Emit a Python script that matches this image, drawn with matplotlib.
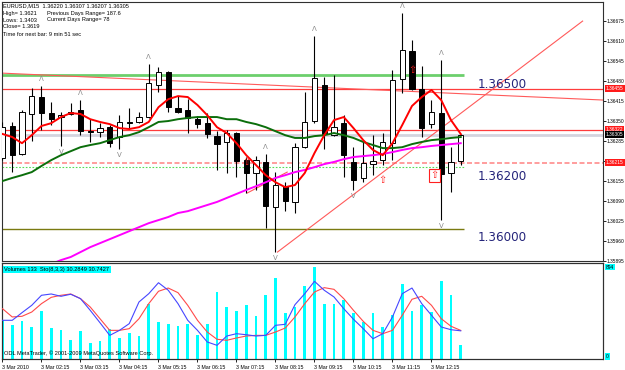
import matplotlib
matplotlib.use("Agg")
import matplotlib.pyplot as plt
import numpy as np

# ---------------- data ----------------
opens = [1.36230, 1.36334, 1.36243, 1.36373, 1.36428, 1.36376, 1.36363, 1.36373, 1.36386, 1.36317,
         1.36314, 1.36330, 1.36298, 1.36347, 1.36347, 1.36363, 1.36467, 1.36509, 1.36392, 1.36386,
         1.36356, 1.36343, 1.36301, 1.36282, 1.36311, 1.36223, 1.36181, 1.36216, 1.36070, 1.36138,
         1.36087, 1.36265, 1.36350, 1.36467, 1.36304, 1.36343, 1.36216, 1.36164, 1.36210, 1.36223,
         1.36278, 1.36486, 1.36577, 1.36454, 1.36340, 1.36376, 1.36181, 1.36220]
highs = [1.36347, 1.36347, 1.36386, 1.36457, 1.36464, 1.36412, 1.36379, 1.36408, 1.36418, 1.36356,
         1.36343, 1.36337, 1.36369, 1.36392, 1.36379, 1.36535, 1.36525, 1.36512, 1.36431, 1.36421,
         1.36366, 1.36376, 1.36317, 1.36321, 1.36314, 1.36233, 1.36236, 1.36242, 1.36184, 1.36151,
         1.36278, 1.36444, 1.36626, 1.36493, 1.36499, 1.36369, 1.36265, 1.36288, 1.36304, 1.36311,
         1.36516, 1.36701, 1.36613, 1.36528, 1.36418, 1.36548, 1.36265, 1.36307]
lows = [1.36223, 1.36184, 1.36239, 1.36285, 1.36321, 1.36337, 1.36269, 1.36369, 1.36304, 1.36282,
        1.36298, 1.36265, 1.36259, 1.36324, 1.36343, 1.36360, 1.36444, 1.36379, 1.36376, 1.36311,
        1.36327, 1.36294, 1.36191, 1.36181, 1.36168, 1.36116, 1.36126, 1.36002, 1.35924, 1.36057,
        1.36051, 1.36262, 1.36343, 1.36259, 1.36301, 1.36168, 1.36126, 1.36151, 1.36174, 1.36207,
        1.36223, 1.36441, 1.36451, 1.36298, 1.36327, 1.36028, 1.36119, 1.36207]
closes = [1.36330, 1.36239, 1.36379, 1.36431, 1.36376, 1.36356, 1.36369, 1.36379, 1.36317, 1.36314,
          1.36327, 1.36278, 1.36347, 1.36343, 1.36363, 1.36473, 1.36509, 1.36395, 1.36379, 1.36360,
          1.36340, 1.36308, 1.36275, 1.36311, 1.36220, 1.36181, 1.36223, 1.36073, 1.36142, 1.36090,
          1.36265, 1.36347, 1.36489, 1.36308, 1.36330, 1.36239, 1.36158, 1.36213, 1.36220, 1.36282,
          1.36483, 1.36581, 1.36454, 1.36327, 1.36379, 1.36178, 1.36216, 1.36305]

ma_fast = [1.36308, 1.36298, 1.36278, 1.36304, 1.36334, 1.36343, 1.36363, 1.36376, 1.36373, 1.36356,
           1.36347, 1.36340, 1.36327, 1.36324, 1.36330, 1.36347, 1.36395, 1.36421, 1.36431, 1.36428,
           1.36402, 1.36369, 1.36330, 1.36311, 1.36278, 1.36239, 1.36207, 1.36174, 1.36151, 1.36135,
           1.36142, 1.36181, 1.36246, 1.36304, 1.36353, 1.36363, 1.36327, 1.36288, 1.36256, 1.36239,
           1.36278, 1.36337, 1.36399, 1.36428, 1.36451, 1.36418, 1.36353, 1.36308]
ma_mid = [1.36155, 1.36165, 1.36174, 1.36184, 1.36204, 1.36223, 1.36239, 1.36252, 1.36265, 1.36272,
          1.36278, 1.36288, 1.36298, 1.36304, 1.36314, 1.36330, 1.36347, 1.36350, 1.36356, 1.36360,
          1.36363, 1.36363, 1.36363, 1.36356, 1.36356, 1.36347, 1.36340, 1.36330, 1.36317, 1.36304,
          1.36295, 1.36295, 1.36301, 1.36304, 1.36311, 1.36304, 1.36295, 1.36282, 1.36272, 1.36262,
          1.36262, 1.36265, 1.36275, 1.36282, 1.36288, 1.36291, 1.36295, 1.36298]
ma_slow = [None, None, None, None, None, 1.35885, 1.35898, 1.35908, 1.35924, 1.35940,
           1.35953, 1.35966, 1.35979, 1.35992, 1.36005, 1.36018, 1.36028, 1.36038, 1.36051, 1.36057,
           1.36067, 1.36077, 1.36087, 1.36100, 1.36113, 1.36126, 1.36138, 1.36151, 1.36165, 1.36174,
           1.36184, 1.36191, 1.36200, 1.36210, 1.36217, 1.36226, 1.36233, 1.36236, 1.36239, 1.36243,
           1.36249, 1.36256, 1.36262, 1.36265, 1.36269, 1.36272, 1.36275, 1.36278]

volumes = [376, 328, 369, 311, 464, 301, 282, 188, 272, 153, 175, 289, 204, 256, 224, 535,
           357, 343, 321, 337, 236, 343, 648, 505, 467, 522, 418, 622, 787, 450, 505, 710,
           894, 535, 538, 576, 447, 360, 450, 311, 425, 729, 464, 528, 457, 755, 622, 133]
sto_main = [41.6, 41.6, 49.8, 57.7, 68.5, 69.9, 67.4, 69.6, 64.9, 52.3, 39.0, 25.4, 30.8, 38.0, 61.3, 70.2,
            82.0, 73.9, 59.5, 41.6, 30.8, 18.3, 14.7, 24.7, 27.2, 26.1, 24.7, 25.4, 36.2, 37.3, 58.4, 70.2,
            83.5, 73.9, 66.7, 54.1, 42.7, 32.6, 21.8, 27.2, 45.2, 70.2, 76.3, 59.5, 47.0, 34.4, 31.5, 30.2849]
sto_signal = [54.1, 45.2, 45.9, 50.5, 59.5, 66.3, 68.5, 69.9, 64.9, 55.9, 43.3, 30.8, 30.8, 32.6, 43.3, 59.5,
              72.8, 76.3, 71.3, 57.7, 41.6, 29.0, 21.2, 20.1, 22.6, 24.7, 25.4, 25.4, 29.0, 33.3, 45.2, 59.5,
              72.0, 76.7, 74.9, 64.9, 52.3, 40.5, 30.8, 27.2, 30.8, 47.0, 64.2, 67.4, 57.7, 43.3, 35.2, 30.7427]

time_labels = ["3 Mar 2010", "3 Mar 02:15", "3 Mar 03:15", "3 Mar 04:15", "3 Mar 05:15", "3 Mar 06:15",
               "3 Mar 07:15", "3 Mar 08:15", "3 Mar 09:15", "3 Mar 10:15", "3 Mar 11:15", "3 Mar 12:15"]
price_ticks = [1.36675, 1.36610, 1.36545, 1.36480, 1.36415, 1.36350, 1.36285, 1.36220,
               1.36155, 1.36090, 1.36025, 1.35960, 1.35895]

fractal_up = [4, 8, 15, 27, 32, 41, 45]
fractal_down = [6, 12, 28, 36, 45]
arrow_bars = [25, 39, 42]
arrow_prices = [1.36216, 1.36158, 1.36516]
boxed_arrow = (44.3, 1.36174)

level_prices = [1.36500, 1.36200, 1.36000]
level_labels = ["1.36500", "1.36200", "1.36000"]
full_red_levels = [1.36455, 1.36322]
bid_price = 1.36305
pink_level = 1.36215
trend_lines = [((-0.2, 1.36506), (61.8, 1.36418)),
               ((28.2, 1.35924), (59.5, 1.36675)),
               ((25.1, 1.36116), (29.2, 1.36184))]

header_lines = ["EURUSD,M15  1.36220 1.36307 1.36207 1.36305",
                "High= 1.3621", "Lows: 1.3403", "Close= 1.3619",
                "Time for next bar: 9 min 51 sec"]
header_right = ["Previous Days Range= 187.6", "Current Days Range= 78"]

# ---------------- figure ----------------
W, H = 625.0, 370.0
FS = 4.1      # small MetaTrader-style text
FSA = 3.5     # axis labels / price tags
SMALL = 'Liberation Sans'
plt.rcParams['font.family'] = ['DejaVu Sans']
fig = plt.figure(figsize=(6.25, 3.7), dpi=100)
fig.patch.set_facecolor('white')


def rect(x0, y0, x1, y1):
    return [x0 / W, 1 - y1 / H, (x1 - x0) / W, (y1 - y0) / H]


ax = fig.add_axes(rect(2, 2, 603, 261))
axv = fig.add_axes(rect(2, 263, 603, 359))
axs = axv.twinx()

n = len(opens)
idx = np.arange(n)
o = np.array(opens); c = np.array(closes); hi = np.array(highs); lo = np.array(lows)
XL = (-0.05, -0.05 + 601 / 9.75)
for a in (ax, axv, axs):
    a.set_xlim(*XL)
ax.set_ylim(1.35895, 1.36737)

# horizontal objects
ax.hlines(bid_price, XL[0], XL[1], color='#d4d4de', lw=2.0, zorder=1)
ax.hlines(pink_level, XL[0], XL[1], color='#ff8c8c', lw=1.2, ls=(0, (3, 1.5)), zorder=1)
for lv in full_red_levels:
    ax.hlines(lv, XL[0], XL[1], color='#ff3c3c', lw=0.9, zorder=2)
end_bar = 47.3
ax.hlines(level_prices[0], XL[0], end_bar, color='#6ccf6c', lw=2.0, zorder=2)
ax.hlines(level_prices[1], XL[0], end_bar, color='#55dd55', lw=0.8, ls=(0, (1.5, 1.5)), zorder=2)
ax.hlines(level_prices[2], XL[0], end_bar, color='#7a7a10', lw=1.0, zorder=2)
for p, s in zip(level_prices, level_labels):
    ax.annotate(s, xy=(end_bar + 1.45, p), xytext=(0, -2), textcoords='offset points',
                ha='left', va='top', fontsize=8.6, color='#24247a', zorder=6)
for (x0, y0), (x1, y1) in trend_lines:
    ax.plot([x0, x1], [y0, y1], color='#ff5a5a', lw=0.8, zorder=2, clip_on=True)

# candles
ax.vlines(idx, lo, hi, color='black', lw=0.8, zorder=3)
body_lo = np.minimum(o, c)
body_h = np.maximum(np.abs(c - o), 0.00001)
ax.bar(idx, body_h, bottom=body_lo, width=0.52,
       color=['white' if cc >= oo else 'black' for oo, cc in zip(o, c)],
       edgecolor='black', linewidth=0.7, zorder=4)

# moving averages
ax.plot(idx, ma_slow, color='#ff00ff', lw=1.4, zorder=5)
ax.plot(idx, ma_mid, color='#0b6e0b', lw=1.4, zorder=5)
ax.plot(idx, ma_fast, color='#ff0000', lw=1.4, zorder=5)

# fractals
for i in fractal_up:
    ax.annotate('Λ', xy=(i, highs[i]), xytext=(0, 3), textcoords='offset points',
                ha='center', va='bottom', fontsize=5, color='#8a8a8a', zorder=6)
for i in fractal_down:
    ax.annotate('V', xy=(i, lows[i]), xytext=(0, -2), textcoords='offset points',
                ha='center', va='top', fontsize=5, color='#8a8a8a', zorder=6)
for b, p in zip(arrow_bars, arrow_prices):
    ax.text(b, p, '⇧', ha='center', va='center', fontsize=7, color='#ff2020', zorder=7)
ax.text(boxed_arrow[0], boxed_arrow[1], '⇧', ha='center', va='center', fontsize=7,
        color='#ff2020', zorder=7,
        bbox=dict(boxstyle='square,pad=0.15', fc='white', ec='#ff2020', lw=0.8))

# axes styling
for a in (ax, axv, axs):
    for sp in a.spines.values():
        sp.set_color('#303030'); sp.set_linewidth(0.8)
ax.yaxis.tick_right()
ax.set_yticks(price_ticks)
ax.set_yticklabels([f'{t:.5f}' for t in price_ticks], fontfamily=SMALL)
ax.tick_params(axis='y', length=1.8, width=0.6, pad=0.8, labelsize=FSA, colors='black')
ax.set_xticks([])


def tag(a, y, s, fc, tc, va='center'):
    a.annotate(s, xy=(1.0, y), xycoords=('axes fraction', 'data'), xytext=(2.0, 0),
               textcoords='offset points', ha='left', va=va, fontsize=FSA, color=tc,
               family=SMALL,
               bbox=dict(boxstyle='square,pad=0.2', fc=fc, ec='none'),
               annotation_clip=False, zorder=20)


tag(ax, full_red_levels[0], f'{full_red_levels[0]:.5f}', '#ff1a1a', 'white')
tag(ax, full_red_levels[1], f'{full_red_levels[1]:.5f}', '#ff1a1a', 'white')
tag(ax, bid_price, f'{bid_price:.5f}', 'black', 'white')
tag(ax, pink_level, f'{pink_level:.5f}', '#ff1a1a', 'white')

# header text
for k, s in enumerate(header_lines):
    fig.text(3 / W, 1 - (6 + 7 * k) / H, s, fontsize=FS, va='center', ha='left',
             color='black', family=SMALL)
for k, s in enumerate(header_right):
    fig.text(47 / W, 1 - (13 + 7 * k) / H, s, fontsize=FS, va='center', ha='left',
             color='black', family=SMALL)

# volume / stochastic panel
axv.set_ylim(0, 933)
axs.set_ylim(0, 103.2)
axv.bar(idx, volumes, width=0.28, color='#00ffff', zorder=2)
axs.plot(idx, sto_signal, color='#ff4a4a', lw=0.8, zorder=3)
axs.plot(idx, sto_main, color='#4646ff', lw=0.8, zorder=4)
axv.set_yticks([]); axs.set_yticks([])
axv.set_xticks(idx[::4])
axv.set_xticklabels(time_labels, ha='left', fontfamily=SMALL)
axv.tick_params(axis='x', length=2.5, width=0.6, pad=1.5, labelsize=FSA + 0.3)
tag(axv, 894, '894', '#00ffff', 'black')
tag(axv, 0, '0', '#00ffff', 'black', va='bottom')
axv.text(0.004, 0.955, 'Volumes 133  Sto(8,3,3) 30.2849 30.7427', transform=axv.transAxes,
         ha='left', va='top', fontsize=FS, color='black', zorder=10, family=SMALL,
         bbox=dict(boxstyle='square,pad=0.2', fc='#00ffff', ec='none'))
axv.text(0.004, 0.03, 'ODL MetaTrader, © 2001-2009 MetaQuotes Software Corp.', transform=axv.transAxes,
         ha='left', va='bottom', fontsize=FS, color='black', zorder=10, family=SMALL)

fig.savefig('out.png', dpi=100, facecolor='white')
